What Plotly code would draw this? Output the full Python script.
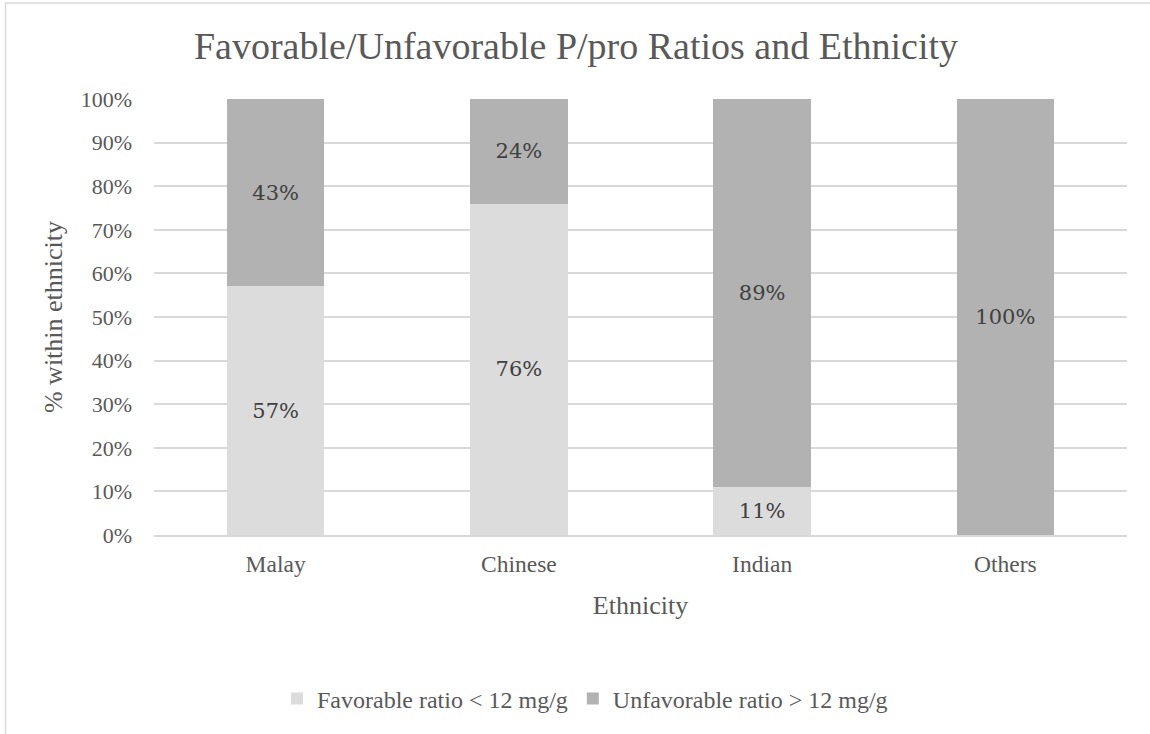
import plotly.graph_objects as go

categories = ["Malay", "Chinese", "Indian", "Others"]
favorable = [57, 76, 11, 0]
unfavorable = [43, 24, 89, 100]
series_names = ["Favorable ratio < 12 mg/g", "Unfavorable ratio > 12 mg/g"]
y_ticks = [0, 10, 20, 30, 40, 50, 60, 70, 80, 90, 100]

W, H = 1150, 734
L, R, T, B = 154, 23, 99, 199
pw, ph = W - L - R, H - T - B

def px_x(p):
    return (p - L) / pw

def px_y(p):
    return 1 - (p - T) / ph

TXT = "#595959"
SERIF = "Liberation Serif, Times New Roman, serif"
LABF = "DejaVu Serif, Cambria, serif"

def labels(vals):
    return [f"{v}%" if v > 0 else "" for v in vals]

fig = go.Figure()
fig.add_trace(go.Bar(
    x=categories, y=favorable, name=series_names[0],
    marker=dict(color="#DCDCDC", line=dict(width=0)),
    text=labels(favorable), textposition="inside", insidetextanchor="middle",
    textangle=0, constraintext="none",
    textfont=dict(family=LABF, size=21, color="#404040"),
    hoverinfo="skip",
))
fig.add_trace(go.Bar(
    x=categories, y=unfavorable, name=series_names[1],
    marker=dict(color="#B2B2B2", line=dict(width=0)),
    text=labels(unfavorable), textposition="inside", insidetextanchor="middle",
    textangle=0, constraintext="none",
    textfont=dict(family=LABF, size=21, color="#404040"),
    hoverinfo="skip",
))

fig.update_layout(
    width=W, height=H,
    barmode="stack", bargap=0.6,
    paper_bgcolor="white", plot_bgcolor="white",
    margin=dict(l=L, r=R, t=T, b=B, autoexpand=False),
    title=dict(text="Favorable/Unfavorable P/pro Ratios and Ethnicity",
               x=576 / W, xanchor="center", xref="container",
               y=1 - 46 / H, yanchor="middle", yref="container",
               font=dict(family=SERIF, size=38, color=TXT)),
    font=dict(family=SERIF, color=TXT),
    legend=dict(orientation="h", x=px_x(585), xanchor="center",
                y=px_y(699), yanchor="middle",
                font=dict(family=SERIF, size=24, color=TXT),
                itemwidth=30, traceorder="normal",
                bgcolor="rgba(0,0,0,0)"),
    showlegend=True,
)
fig.update_xaxes(
    showgrid=False, showline=True, linecolor="#D9D9D9", linewidth=1.5,
    ticks="", tickfont=dict(family=SERIF, size=23.5, color=TXT),
    ticklabelstandoff=7,
    title=dict(text="Ethnicity", font=dict(family=SERIF, size=26, color=TXT), standoff=20),
    automargin=False,
)
fig.update_yaxes(
    range=[0, 100], tickvals=y_ticks, ticktext=[f"{v}%" for v in y_ticks],
    showgrid=True, gridcolor="#D9D9D9", gridwidth=1.5,
    zeroline=False, showline=False, ticks="",
    tickfont=dict(family=SERIF, size=22, color=TXT),
    ticklabelstandoff=21,
    title=dict(text="% within ethnicity", font=dict(family=SERIF, size=26, color=TXT), standoff=10),
    automargin=False,
)

# chart-area border (left and top edges visible in the reference)
fig.add_shape(type="line", xref="paper", yref="paper",
              x0=px_x(5.5), x1=px_x(5.5), y0=px_y(3), y1=px_y(760),
              line=dict(color="#D9D9D9", width=1.5), layer="below")
fig.add_shape(type="line", xref="paper", yref="paper",
              x0=px_x(5), x1=px_x(1170), y0=px_y(3), y1=px_y(3),
              line=dict(color="#D9D9D9", width=1.5), layer="below")

fig.write_html("out.html")
